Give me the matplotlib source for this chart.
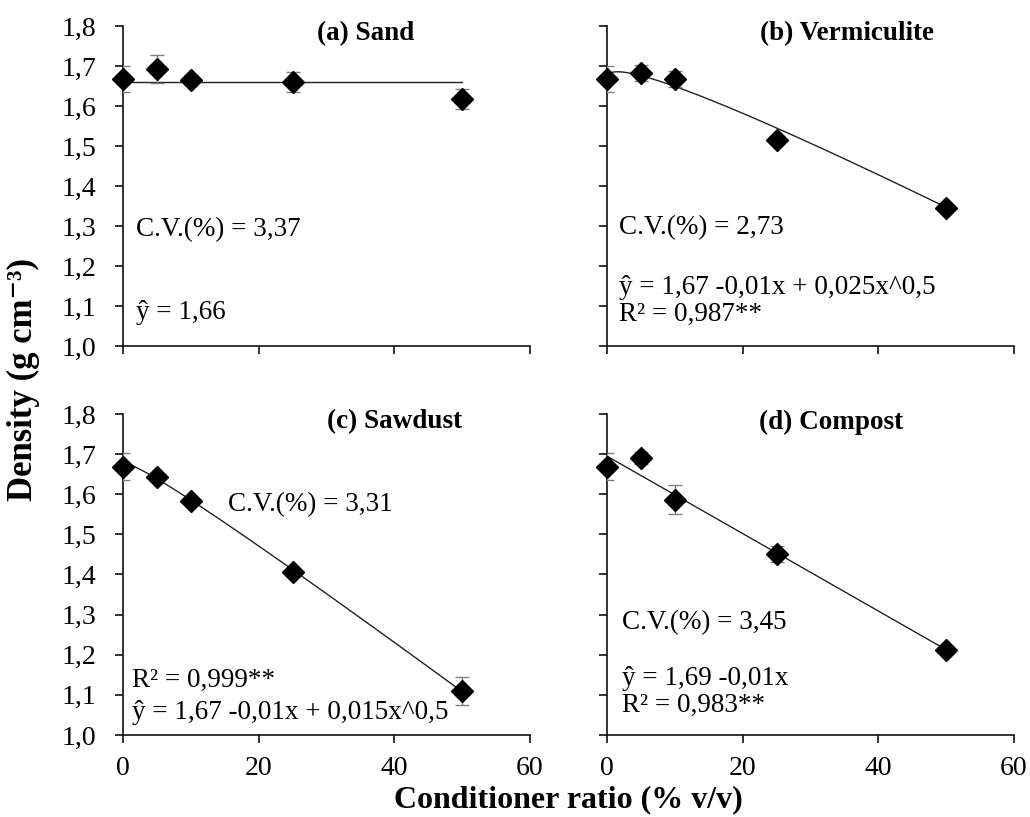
import numpy as np
import matplotlib
matplotlib.use("Agg")
from matplotlib import pyplot as plt
from matplotlib.ticker import FuncFormatter

plt.rcParams['font.family'] = ['Liberation Serif', 'DejaVu Serif']

# conditioner ratios (% v/v)
ratio = [0, 5, 10, 25, 50]

# mean density (g cm-3) and standard error for each conditioner
sand = [1.667, 1.692, 1.665, 1.660, 1.618]
sand_err = [0.033, 0.035, 0.012, 0.025, 0.025]

verm = [1.667, 1.682, 1.667, 1.515, 1.344]
verm_err = [0.033, 0.020, 0.020, 0.010, 0.010]

sawd = [1.669, 1.644, 1.582, 1.405, 1.110]
sawd_err = [0.033, 0.010, 0.008, 0.010, 0.034]

comp = [1.669, 1.690, 1.586, 1.451, 1.212]
comp_err = [0.033, 0.015, 0.036, 0.019, 0.008]

# regression coefficients: y = a + b*x + c*x^0.5
fit_sand = (1.66, 0.0, 0.0)
fit_verm = (1.67, -0.01, 0.025)
fit_sawd = (1.672, -0.0134, 0.015)
fit_comp = (1.695, -0.00965, 0.0)

titles = ['(a) Sand', '(b) Vermiculite', '(c) Sawdust', '(d) Compost']

comma = FuncFormatter(lambda v, p: ('%.1f' % v).replace('.', ','))

fig = plt.figure(figsize=(10.30, 8.17), dpi=100)

W, H = 1030.0, 817.0
boxes = [(123, 26, 530, 346), (607, 26, 1014, 346),
         (123, 414, 530, 735), (607, 414, 1014, 735)]

panels = [(sand, sand_err, fit_sand), (verm, verm_err, fit_verm),
          (sawd, sawd_err, fit_sawd), (comp, comp_err, fit_comp)]

axes = []
for i, (box, (y, e, f)) in enumerate(zip(boxes, panels)):
    x0, y0, x1, y1 = box
    ax = fig.add_axes([x0 / W, 1 - y1 / H, (x1 - x0) / W, (y1 - y0) / H])
    axes.append(ax)

    xx = np.linspace(0, 50, 300)
    yy = f[0] + f[1] * xx + f[2] * np.sqrt(xx)
    ax.plot(xx, yy, color='#222222', lw=1.0, zorder=2)

    ax.errorbar(ratio, y, yerr=e, fmt='none', ecolor='#808080',
                elinewidth=1.0, capsize=5, capthick=1.0, zorder=3)
    ax.plot(ratio, y, 'D', color='black', ms=11, zorder=4, clip_on=False)

    ax.set_xlim(0, 60)
    ax.set_ylim(1.0, 1.8)
    ax.set_xticks([0, 20, 40, 60])
    ax.set_yticks(np.arange(1.0, 1.81, 0.1))
    ax.yaxis.set_major_formatter(comma)
    ax.spines['top'].set_visible(False)
    ax.spines['right'].set_visible(False)
    for s in ['left', 'bottom']:
        ax.spines[s].set_linewidth(1.2)
        ax.spines[s].set_color('#111111')
    ax.tick_params(direction='out', length=6, width=1.2, color='#111111',
                   labelsize=20)
    ax.tick_params(axis='x', pad=9)
    ax.tick_params(axis='y', pad=13)
    if i < 2:
        ax.tick_params(axis='x', labelbottom=False)
    if i % 2 == 1:
        ax.tick_params(axis='y', labelleft=False)

fs = 19.5
axes[0].text(35.7, 1.78, titles[0], ha='center', va='center', fontsize=fs, fontweight='bold')
axes[1].text(35.4, 1.78, titles[1], ha='center', va='center', fontsize=fs, fontweight='bold')
axes[2].text(40.1, 1.78, titles[2], ha='center', va='center', fontsize=fs, fontweight='bold')
axes[3].text(33.0, 1.78, titles[3], ha='center', va='center', fontsize=fs, fontweight='bold')

axes[0].text(1.9, 1.29, 'C.V.(%) = 3,37', va='center', fontsize=fs)
axes[0].text(1.9, 1.085, 'ŷ = 1,66', va='center', fontsize=fs)

axes[1].text(1.8, 1.296, 'C.V.(%) = 2,73', va='center', fontsize=fs)
axes[1].text(1.8, 1.145, 'ŷ = 1,67 -0,01x + 0,025x^0,5', va='center', fontsize=fs)
axes[1].text(1.8, 1.078, 'R² = 0,987**', va='center', fontsize=fs)

axes[2].text(15.5, 1.574, 'C.V.(%) = 3,31', va='center', fontsize=fs)
axes[2].text(1.3, 1.137, 'R² = 0,999**', va='center', fontsize=fs)
axes[2].text(1.3, 1.055, 'ŷ = 1,67 -0,01x + 0,015x^0,5', va='center', fontsize=fs)

axes[3].text(2.2, 1.279, 'C.V.(%) = 3,45', va='center', fontsize=fs)
axes[3].text(2.2, 1.142, 'ŷ = 1,69 -0,01x', va='center', fontsize=fs)
axes[3].text(2.2, 1.075, 'R² = 0,983**', va='center', fontsize=fs)

fig.text(23 / W, 1 - 380 / H, 'Density (g cm\u207b\u00b3)', rotation=90,
         ha='center', va='center', fontsize=25, fontweight='bold')
fig.text(568 / W, 1 - 800 / H, 'Conditioner ratio (% v/v)',
         ha='center', va='center', fontsize=23, fontweight='bold')

plt.savefig('out.png', dpi=100)
